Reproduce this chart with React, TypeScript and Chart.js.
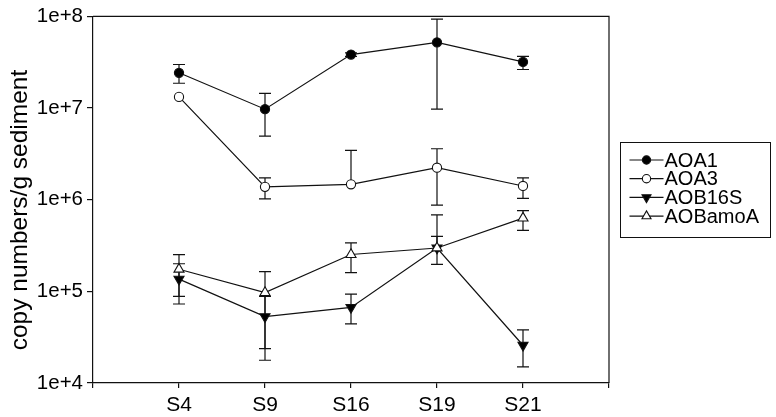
import React, { useEffect, useRef } from 'react';
import { Chart, registerables } from 'chart.js';
Chart.register(...registerables);

const sites = ['S4', 'S9', 'S16', 'S19', 'S21'];
const yTicks = [1e4, 1e5, 1e6, 1e7, 1e8];
const seriesNames = ['AOA1', 'AOA3', 'AOB16S', 'AOBamoA'];
const yTitle = 'copy numbers/g sediment';

const aoa1 = [2.42e7, 9.7e6, 3.82e7, 5.19e7, 3.18e7];
const aoa1Low = [1.86e7, 4.92e6, 3.65e7, 9.7e6, 2.63e7];
const aoa1High = [2.98e7, 1.44e7, 4.0e7, 9.3e7, 3.66e7];

const aoa3 = [1.32e7, 1.38e6, 1.47e6, 2.23e6, 1.41e6];
const aoa3Low = [1.32e7, 1.02e6, 1.47e6, 8.73e5, 1.03e6];
const aoa3High = [1.32e7, 1.73e6, 3.44e6, 3.59e6, 1.73e6];

const aob16s = [1.36e5, 5.3e4, 6.68e4, 2.97e5, 2.58e4];
const aob16sLow = [7.27e4, 1.77e4, 4.42e4, 2.97e5, 1.5e4];
const aob16sHigh = [2.0e5, 8.8e4, 9.33e4, 6.83e5, 3.8e4];

const aobamoa = [1.74e5, 9.7e4, 2.52e5, 2.97e5, 6.28e5];
const aobamoaLow = [8.8e4, 2.37e4, 1.6e5, 1.97e5, 4.62e5];
const aobamoaHigh = [2.52e5, 1.64e5, 3.37e5, 3.98e5, 7.6e5];

const FONT = '"Liberation Sans", Arial, Helvetica, sans-serif';
const INK = '#111';

type Style = { shape: 'circle' | 'triangle'; rotation: number; fill: string; radius: number };
const styles: Style[] = [
  { shape: 'circle', rotation: 0, fill: '#000', radius: 4.6 },
  { shape: 'circle', rotation: 0, fill: '#fff', radius: 4.6 },
  { shape: 'triangle', rotation: 180, fill: '#000', radius: 5.8 },
  { shape: 'triangle', rotation: 0, fill: '#fff', radius: 5.8 },
];

function drawMarker(ctx: CanvasRenderingContext2D, s: Style, x: number, y: number, scale = 1) {
  const r = s.radius * scale;
  ctx.save();
  ctx.beginPath();
  if (s.shape === 'circle') {
    ctx.arc(x, y, r, 0, Math.PI * 2);
  } else {
    const rad = (s.rotation * Math.PI) / 180;
    const pts = [0, 1, 2].map((k) => {
      const a = rad + (k * 2 * Math.PI) / 3;
      return [x + Math.sin(a) * r, y - Math.cos(a) * r];
    });
    ctx.moveTo(pts[0][0], pts[0][1]);
    ctx.lineTo(pts[1][0], pts[1][1]);
    ctx.lineTo(pts[2][0], pts[2][1]);
    ctx.closePath();
  }
  ctx.fillStyle = s.fill;
  ctx.fill();
  ctx.lineWidth = 1.1;
  ctx.strokeStyle = INK;
  ctx.stroke();
  ctx.restore();
}

const values = [aoa1, aoa3, aob16s, aobamoa];
const lows = [aoa1Low, aoa3Low, aob16sLow, aobamoaLow];
const highs = [aoa1High, aoa3High, aob16sHigh, aobamoaHigh];

const errorBarPlugin = {
  id: 'errorBars',
  beforeDatasetsDraw(chart: any) {
    const ctx = chart.ctx as CanvasRenderingContext2D;
    const xs = chart.scales.x;
    const ys = chart.scales.y;
    ctx.save();
    ctx.strokeStyle = INK;
    ctx.lineWidth = 1.2;
    values.forEach((vals, d) => {
      vals.forEach((v, i) => {
        const x = xs.getPixelForValue(i + 1);
        const yl = ys.getPixelForValue(lows[d][i]);
        const yh = ys.getPixelForValue(highs[d][i]);
        const cap = 6;
        ctx.beginPath();
        ctx.moveTo(x, yh);
        ctx.lineTo(x, yl);
        if (highs[d][i] > v) {
          ctx.moveTo(x - cap, yh);
          ctx.lineTo(x + cap, yh);
        }
        if (lows[d][i] < v) {
          ctx.moveTo(x - cap, yl);
          ctx.lineTo(x + cap, yl);
        }
        ctx.stroke();
      });
    });
    ctx.restore();
  },
  afterDatasetsDraw(chart: any) {
    const ctx = chart.ctx as CanvasRenderingContext2D;
    const xs = chart.scales.x;
    const ys = chart.scales.y;
    values.forEach((vals, d) => {
      vals.forEach((v, i) => {
        drawMarker(ctx, styles[d], xs.getPixelForValue(i + 1), ys.getPixelForValue(v));
      });
    });
  },
  afterDraw(chart: any) {
    const ctx = chart.ctx as CanvasRenderingContext2D;
    const a = chart.chartArea;
    ctx.save();
    ctx.strokeStyle = INK;
    ctx.lineWidth = 1.2;
    ctx.beginPath();
    ctx.moveTo(a.left, a.top);
    ctx.lineTo(a.right, a.top);
    ctx.lineTo(a.right, a.bottom);
    ctx.stroke();

    // y axis title
    ctx.save();
    ctx.translate(20, 210);
    ctx.rotate(-Math.PI / 2);
    ctx.font = `24.5px ${FONT}`;
    ctx.fillStyle = '#000';
    ctx.textAlign = 'center';
    ctx.textBaseline = 'middle';
    ctx.fillText(yTitle, 0, 0);
    ctx.restore();

    // legend
    const lx = a.right + 11.5;
    const ly = 142.5;
    const lw = 150;
    const lh = 95;
    ctx.lineWidth = 1;
    ctx.strokeRect(lx, ly, lw, lh);
    ctx.font = `20px ${FONT}`;
    ctx.textBaseline = 'middle';
    ctx.textAlign = 'left';
    seriesNames.forEach((name, k) => {
      const y = 160 + k * 18.7;
      ctx.beginPath();
      ctx.lineWidth = 1.2;
      ctx.moveTo(lx + 9, y);
      ctx.lineTo(lx + 43, y);
      ctx.stroke();
      drawMarker(ctx, styles[k], lx + 26, y, 0.9);
      ctx.fillStyle = '#000';
      ctx.fillText(name, lx + 44, y + 1);
    });
    ctx.restore();
  },
};

export default function App() {
  const ref = useRef<HTMLCanvasElement | null>(null);
  useEffect(() => {
    document.body.style.margin = '0';
    const canvas = ref.current!;
    const chart = new Chart(canvas, {
      type: 'line',
      data: {
        datasets: values.map((vals, d) => ({
          label: seriesNames[d],
          data: vals.map((v, i) => ({ x: i + 1, y: v })),
          borderColor: INK,
          borderWidth: 1.2,
          pointRadius: 0,
          pointHoverRadius: 0,
          fill: false,
          tension: 0,
        })),
      },
      options: {
        animation: false,
        responsive: false,
        events: [],
        layout: { padding: { top: 13, right: 167, left: 0, bottom: 0 } },
        plugins: { legend: { display: false }, tooltip: { enabled: false } },
        scales: {
          x: {
            type: 'linear',
            min: 0,
            max: 6,
            afterBuildTicks: (s: any) => {
              s.ticks = [0, 1, 2, 3, 4, 5, 6].map((v) => ({ value: v }));
            },
            afterFit: (s: any) => {
              s.height = 34;
            },
            ticks: {
              autoSkip: false,
              maxRotation: 0,
              padding: 5,
              color: '#000',
              font: { family: FONT, size: 21 },
              callback: (v: any) => (v >= 1 && v <= 5 ? sites[v - 1] : ''),
            },
            grid: { drawOnChartArea: false, drawTicks: true, tickLength: 5, color: INK, lineWidth: 1.2 },
            border: { display: true, color: INK, width: 1.2 },
          },
          y: {
            type: 'logarithmic',
            min: 1e4,
            max: 1e8,
            afterBuildTicks: (s: any) => {
              s.ticks = yTicks.map((v) => ({ value: v }));
            },
            afterFit: (s: any) => {
              s.width = 93;
            },
            ticks: {
              autoSkip: false,
              padding: 4,
              color: '#000',
              font: { family: FONT, size: 20.5 },
              callback: (v: any) => '1e+' + Math.round(Math.log10(v)),
            },
            grid: { drawOnChartArea: false, drawTicks: true, tickLength: 6, color: INK, lineWidth: 1.2 },
            border: { display: true, color: INK, width: 1.2 },
          },
        },
      },
      plugins: [errorBarPlugin],
    } as any);
    return () => chart.destroy();
  }, []);
  return <canvas ref={ref} width={776} height={417} style={{ display: 'block' }} />;
}
